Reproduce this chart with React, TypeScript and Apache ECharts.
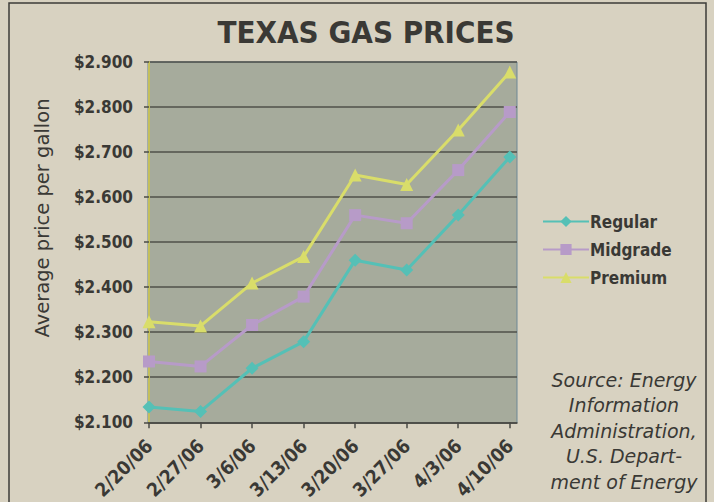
import React, { useEffect, useRef } from "react";
import * as echarts from "echarts";

const categories = ["2/20/06", "2/27/06", "3/6/06", "3/13/06", "3/20/06", "3/27/06", "4/3/06", "4/10/06"];
const regular = [2.134, 2.124, 2.22, 2.279, 2.46, 2.438, 2.56, 2.689];
const midgrade = [2.235, 2.224, 2.316, 2.379, 2.56, 2.542, 2.66, 2.789];
const premium = [2.323, 2.314, 2.409, 2.468, 2.649, 2.628, 2.749, 2.878];
const sourceLines = ["Source: Energy", "Information", "Administration,", "U.S. Depart-", "ment of Energy"];

const FONT = "'DejaVu Sans Condensed', 'DejaVu Sans', sans-serif";
const WIDE = "'DejaVu Sans', sans-serif";
const TEXT = "#3a3935";

export default function App() {
  const ref = useRef<HTMLDivElement>(null);
  useEffect(() => {
    document.body.style.margin = "0";
    const chart = echarts.init(ref.current!, undefined, { renderer: "svg" });
    const toXY = (arr: number[]) => arr.map((v, i) => [i, v]);
    const mk = (name: string, data: number[], color: string, symbol: string, size: number) => ({
      name,
      type: "line",
      data: toXY(data),
      symbol,
      symbolSize: size,
      lineStyle: { color, width: 3 },
      itemStyle: { color },
      z: 5,
    });
    chart.setOption({
      animation: false,
      backgroundColor: "#d8d2c1",
      textStyle: { fontFamily: FONT },
      title: {
        text: "TEXAS GAS PRICES",
        left: 361,
        top: 11,
        textAlign: "center",
        textStyle: { fontFamily: FONT, fontWeight: "bold", fontSize: 31, color: TEXT },
      },
      grid: { left: 149, right: 714 - 517, top: 62, bottom: 502 - 423, containLabel: false },
      xAxis: {
        type: "value",
        min: 0,
        max: 7.14,
        interval: 1,
        axisLine: { show: true, lineStyle: { color: "#4a4a44", width: 1.5 } },
        axisTick: { show: true, length: 6, lineStyle: { color: "#4a4a44", width: 1.5 } },
        splitLine: { show: false },
        axisLabel: {
          rotate: 45,
          margin: 20,
          fontFamily: FONT,
          fontWeight: "bold",
          fontSize: 19,
          color: TEXT,
          showMaxLabel: false,
          formatter: (v: number) => (Number.isInteger(v) && categories[v] !== undefined ? categories[v] : ""),
        },
      },
      yAxis: {
        type: "value",
        min: 2.1,
        max: 2.9,
        interval: 0.1,
        axisLine: { show: true, lineStyle: { color: "#c4bf5c", width: 2 } },
        axisTick: { show: true, length: 5, lineStyle: { color: "#4a4a44", width: 1.5 } },
        splitLine: { show: true, lineStyle: { color: "#4f514a", width: 1.5 } },
        axisLabel: {
          margin: 16,
          fontFamily: FONT,
          fontWeight: "bold",
          fontSize: 17,
          color: TEXT,
          formatter: (v: number) => "$" + v.toFixed(3),
        },
      },
      legend: {
        orient: "vertical",
        left: 537,
        top: 208,
        itemWidth: 46,
        itemHeight: 14,
        itemGap: 11,
        textStyle: { fontFamily: FONT, fontWeight: "bold", fontSize: 17, color: TEXT, padding: [0, 0, 0, -4] },
        data: ["Regular", "Midgrade", "Premium"],
      },
      graphic: [
        {
          type: "rect",
          z: -10,
          shape: { x: 148, y: 62, width: 369, height: 361 },
          style: { fill: "#a6ab9c", stroke: "#6d8796", lineWidth: 1 },
        },
        {
          type: "rect",
          z: -5,
          shape: { x: 9, y: 3, width: 697, height: 520 },
          style: { fill: "none", stroke: "#3d3c38", lineWidth: 1.5 },
        },
        {
          type: "text",
          x: 42,
          y: 218,
          rotation: Math.PI / 2,
          style: {
            text: "Average price per gallon",
            fontFamily: WIDE,
            fontSize: 19.5,
            fill: TEXT,
            textAlign: "center",
            textVerticalAlign: "middle",
          },
        },
        {
          type: "text",
          x: 624,
          y: 367,
          style: {
            text: sourceLines.join("\n"),
            fontFamily: WIDE,
            fontStyle: "italic",
            fontSize: 19,
            lineHeight: 25.5,
            fill: TEXT,
            textAlign: "center",
          },
        },
      ],
      series: [
        mk("Regular", regular, "#55c0b6", "diamond", 13),
        mk("Midgrade", midgrade, "#b79bc8", "rect", 12),
        mk("Premium", premium, "#d9dd6a", "triangle", 13),
      ],
    });
    return () => chart.dispose();
  }, []);
  return <div ref={ref} style={{ width: 714, height: 502 }} />;
}
